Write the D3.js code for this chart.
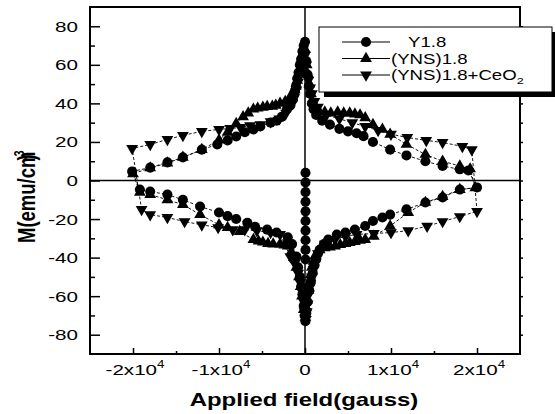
<!DOCTYPE html>
<html>
<head>
<meta charset="UTF-8">
<title>M-H loops</title>
<script src="https://d3js.org/d3.v7.min.js"></script>
<style>
    body { margin: 0; padding: 0; background: #fff; }
    text { font-family: 'Liberation Sans', Arial, sans-serif; fill: #000; }
</style>
</head>
<body>
<svg width="555" height="414"></svg>
<script>
// Y1.8 (circles): upper branch (field going down), lower branch (field going up), initial points at H=0
const y18Upper = [[19000,5.2],[18000,5.8],[16000,7.5],[14000,10],[11800,13],[9900,16],[7900,20],[6800,23],[6000,24.5],[5000,25.5],[4000,26.8],[2900,29],[2000,31],[1300,34],[1000,37],[800,40],[600,45],[450,49],[300,55],[150,62],[0,72],[-150,70],[-300,67],[-450,63],[-600,60],[-750,56],[-900,53],[-1050,49],[-1200,46],[-1400,42],[-1700,39],[-2100,37],[-2700,33],[-3300,31],[-4000,30],[-5200,28],[-6000,26.5],[-7000,25],[-8000,22.8],[-9000,20.8],[-10200,18.7],[-12000,16],[-14200,12],[-16000,9.4],[-18000,6.7],[-20100,4.7]];
const y18Lower = [[-19200,-4.7],[-18000,-5.7],[-16000,-7.3],[-14200,-10],[-12200,-13.5],[-10000,-16.6],[-9000,-18.5],[-8000,-20],[-6700,-22],[-5800,-24],[-4400,-25.5],[-3300,-27],[-2000,-29.5],[-1500,-33],[-1000,-39.5],[-800,-45],[-600,-50],[-450,-55],[-300,-59],[-150,-65],[-50,-70],[50,-73],[150,-69],[300,-63],[500,-57],[700,-52],[900,-48],[1100,-44],[1300,-41],[1500,-38],[1700,-36],[2200,-33],[2700,-30.6],[3700,-28],[4700,-27],[5800,-25.4],[7000,-23.6],[7900,-21],[9000,-19.2],[9900,-17.7],[11800,-15],[14000,-11.4],[16000,-8.8],[18000,-4.7],[20000,-3.6]];
const y18Init = [[60,4],[60,-1],[60,-6],[60,-11],[60,-16],[60,-21],[60,-26],[60,-31],[60,-36],[60,-41]];

// (YNS)1.8 (up triangles)
const ynsUpper = [[19200,6],[18000,7.5],[16000,10],[14000,13.5],[11800,18.7],[9900,24],[9000,26.5],[7900,29],[7000,32.5],[6400,34],[5800,34.5],[5200,35],[4500,35],[3800,35.5],[3000,35],[2300,35.5],[1700,35.5],[1200,38],[900,41],[700,45],[500,50],[350,55],[200,60],[0,68],[-150,67],[-300,64],[-450,61],[-600,58],[-750,55],[-900,52],[-1050,49],[-1200,47],[-1400,45],[-1700,43.5],[-2300,41],[-2900,40],[-3400,39],[-3800,38.5],[-4400,38.3],[-4900,38],[-5500,37.5],[-6000,37],[-6600,35],[-7200,33],[-8000,29.5],[-9000,25],[-10000,21],[-12000,16],[-14200,12],[-16000,9],[-18000,6.5],[-20000,3.5]];
const ynsLower = [[-19200,-6.2],[-18000,-7.3],[-16000,-10],[-14200,-12.5],[-12200,-17.7],[-10000,-23],[-9000,-24.4],[-7600,-26.5],[-6000,-30.6],[-5400,-31.5],[-4900,-32],[-4300,-32.7],[-3700,-33],[-2900,-33],[-2400,-33.5],[-2000,-34],[-1600,-37],[-1300,-40],[-1000,-45],[-700,-50],[-500,-55],[-350,-60],[-150,-67],[50,-71],[150,-66],[250,-62],[400,-57],[500,-53],[650,-49],[800,-45],[1000,-42],[1200,-39],[1700,-36],[2300,-35],[2900,-34.5],[3500,-34],[4100,-33.3],[4700,-32.7],[5200,-32.2],[5800,-31.7],[6400,-31],[7000,-30.6],[8000,-29],[9900,-23.6],[12000,-16.6],[14000,-11.4],[16000,-8.3],[18000,-4.7],[19800,-3.8]];

// (YNS)1.8+CeO2 (down triangles)
const ceoUpper = [[19400,16],[18300,17.7],[16000,19.7],[14100,20.8],[11900,22.3],[10000,24],[8500,26],[7000,28],[5500,30],[4000,32],[2500,34],[1500,38],[1100,41],[800,45],[600,48],[400,52],[150,60],[0,65],[-150,64],[-300,62],[-450,58],[-600,55],[-800,51],[-1000,47],[-1250,43],[-1500,40],[-2200,35],[-3000,32],[-4000,30.5],[-5200,29],[-6400,28.5],[-7500,27.5],[-8700,27],[-10000,26.5],[-12000,25.5],[-14200,23.4],[-16000,21.3],[-18000,18.7],[-20100,16.6]];
const ceoLower = [[-19000,-15],[-18000,-17.7],[-16000,-19.2],[-14000,-21.3],[-12000,-23],[-10100,-24.4],[-8400,-25.5],[-7000,-25.5],[-5600,-26],[-4000,-27],[-2900,-28],[-1700,-39.5],[-1200,-43],[-800,-48],[-550,-53],[-300,-58],[-150,-63],[-50,-68],[100,-72],[200,-68],[300,-64],[450,-59],[600,-55],[800,-50],[1000,-46],[1250,-42],[1500,-38],[2300,-33],[3500,-30.5],[4700,-29],[6000,-28],[8000,-27.5],[10000,-27],[12000,-26],[14200,-23.7],[16000,-21.3],[18000,-18.7],[20000,-16]];

const xMajor = [-20000, -10000, 0, 10000, 20000];
const xMinor = [-15000, -5000, 5000, 15000];
const xLabels = [["-2x10", "4"], ["-1x10", "4"], ["0", ""], ["1x10", "4"], ["2x10", "4"]];
const yMajor = [-80, -60, -40, -20, 0, 20, 40, 60, 80];
const yMinor = [-70, -50, -30, -10, 10, 30, 50, 70];
const seriesNames = ["Y1.8", "(YNS)1.8", "(YNS)1.8+CeO"];

const svg = d3.select("svg");
const x = d3.scaleLinear().domain([-25000, 25000]).range([90, 520]);
const y = d3.scaleLinear().domain([-90, 90]).range([354, 7]);
const SX = 1.33; // the original glyphs are stretched sideways

// zero lines
svg.append("line").attr("x1", x(-25000)).attr("x2", x(25000)).attr("y1", y(0)).attr("y2", y(0))
    .attr("stroke", "#000").attr("stroke-width", 1.5);
svg.append("line").attr("x1", x(0)).attr("x2", x(0)).attr("y1", y(-90)).attr("y2", y(90))
    .attr("stroke", "#000").attr("stroke-width", 1.5);

// ticks
function ticks(axis, tx, ty) {
    const g = svg.append("g").attr("transform", `translate(${tx},${ty})`).call(axis);
    g.select(".domain").remove();
    g.selectAll("line").attr("stroke", "#000").attr("stroke-width", 1.5);
}
ticks(d3.axisLeft(y).tickValues(yMajor).tickSize(-10).tickFormat(""), 90, 0);
ticks(d3.axisLeft(y).tickValues(yMinor).tickSize(-5).tickFormat(""), 90, 0);
ticks(d3.axisBottom(x).tickValues(xMajor).tickSize(-6).tickFormat(""), 0, 354);
ticks(d3.axisBottom(x).tickValues(xMinor).tickSize(-3).tickFormat(""), 0, 354);
ticks(d3.axisRight(y).tickValues(yMajor.concat(yMinor)).tickSize(3).tickFormat(""), 520, 0);

// frame
svg.append("rect").attr("x", x(-25000)).attr("y", y(90))
    .attr("width", x(25000) - x(-25000)).attr("height", y(-90) - y(90))
    .attr("fill", "none").attr("stroke", "#000").attr("stroke-width", 2);

// tick labels
yMajor.forEach(v => {
    svg.append("text").attr("transform", `translate(78,${y(v) + 5.5}) scale(${SX},1)`)
        .attr("text-anchor", "end").attr("font-size", 15.5).text(v);
});
xMajor.forEach((v, i) => {
    const t = svg.append("text").attr("transform", `translate(${x(v) + (xLabels[i][1] ? 2 : 0)},375) scale(${SX},1)`)
        .attr("text-anchor", "middle").attr("font-size", 15.5);
    t.append("tspan").text(xLabels[i][0]);
    if (xLabels[i][1]) t.append("tspan").attr("font-size", 10).attr("dy", -7).text(xLabels[i][1]);
});

// axis titles
svg.append("text").attr("transform", `translate(304,406) scale(${SX},1)`)
    .attr("text-anchor", "middle").attr("font-size", 18).attr("font-weight", "bold")
    .text("Applied field(gauss)");
const yt = svg.append("text").attr("transform", `translate(35,243) scale(${SX},1) rotate(-90)`)
    .attr("text-anchor", "start").attr("font-size", 18.5).attr("font-weight", "bold");
yt.append("tspan").text("M(emu/cm");
yt.append("tspan").attr("font-size", 11).attr("dy", -8).attr("dx", -5).text("3");
yt.append("tspan").attr("dy", 8).attr("dx", -10).text(")");

// series
const series = [
    { up: y18Upper, low: y18Lower, init: y18Init, sym: d3.symbolCircle, size: 80, rot: 0 },
    { up: ynsUpper, low: ynsLower, init: null, sym: d3.symbolTriangle, size: 60, rot: 0 },
    { up: ceoUpper, low: ceoLower, init: null, sym: d3.symbolTriangle, size: 60, rot: 180 }
];
const line = d3.line().x(d => x(d[0])).y(d => y(d[1]));

series.forEach(s => {
    const loop = s.up.concat(s.low, [s.up[0]]);
    svg.append("path").attr("d", line(loop)).attr("fill", "none")
        .attr("stroke", "#000").attr("stroke-width", 0.9).attr("stroke-dasharray", "3,2");
    let pts = loop.slice(0, -1);
    if (s.init) {
        svg.append("path").attr("d", line(s.init)).attr("fill", "none")
            .attr("stroke", "#000").attr("stroke-width", 0.9);
        pts = pts.concat(s.init);
    }
    svg.append("g").selectAll("path").data(pts).join("path")
        .attr("d", d3.symbol().type(s.sym).size(s.size))
        .attr("transform", d => `translate(${x(d[0])},${y(d[1])}) rotate(${s.rot})`)
        .attr("fill", "#000");
});

// legend
svg.append("rect").attr("x", 324).attr("y", 32).attr("width", 233).attr("height", 65).attr("fill", "#000");
svg.append("rect").attr("x", 319).attr("y", 27).attr("width", 233).attr("height", 65)
    .attr("fill", "#fff").attr("stroke", "#000").attr("stroke-width", 1);
const rowY = [42, 58.5, 75];
series.forEach((s, i) => {
    svg.append("line").attr("x1", 342).attr("x2", 390).attr("y1", rowY[i]).attr("y2", rowY[i])
        .attr("stroke", "#000").attr("stroke-width", 1);
    svg.append("path").attr("d", d3.symbol().type(s.sym).size(s.size))
        .attr("transform", `translate(366,${rowY[i]}) rotate(${s.rot})`).attr("fill", "#000");
    const t = svg.append("text").attr("transform", `translate(${i === 0 ? 408 : 391},${rowY[i] + 5}) scale(${SX},1)`)
        .attr("font-size", 14);
    t.append("tspan").text(seriesNames[i]);
    if (i === 2) t.append("tspan").attr("font-size", 9.5).attr("dy", 4).text("2");
});
</script>
</body>
</html>
